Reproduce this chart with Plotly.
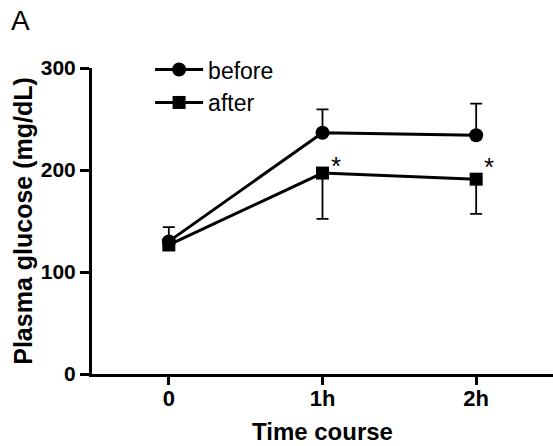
import plotly.graph_objects as go

categories = ["0", "1h", "2h"]
before_mean = [130, 236.5, 234]
before_err_up = [14, 23, 31]
after_mean = [126.5, 197, 191]
after_err_down = [0, 45, 34]
star_labels = ["", "*", "*"]
star_y = [None, 206, 205]
y_ticks = [0, 100, 200, 300]

xpos = list(range(len(categories)))
fig = go.Figure()
fig.add_trace(go.Scatter(
    x=xpos, y=before_mean, name="before", mode="lines+markers",
    line=dict(color="black", width=3),
    marker=dict(symbol="circle", size=14, color="black"),
    error_y=dict(type="data", array=before_err_up, arrayminus=[0] * 3,
                 symmetric=False, color="black", thickness=1.8, width=6),
))
fig.add_trace(go.Scatter(
    x=xpos, y=after_mean, name="after", mode="lines+markers",
    line=dict(color="black", width=3),
    marker=dict(symbol="square", size=13, color="black"),
    error_y=dict(type="data", array=[0] * 3, arrayminus=after_err_down,
                 symmetric=False, color="black", thickness=1.8, width=6),
))
for xi, yi, s in zip(xpos, star_y, star_labels):
    if s:
        fig.add_annotation(x=xi, y=yi, text=s, showarrow=False,
                           xshift=13, yshift=-2,
                           font=dict(family="Liberation Sans", size=26, color="black"))

fig.add_annotation(x=0, y=1, xref="paper", yref="paper", text="A", showarrow=False,
                   xanchor="left", yanchor="top", xshift=-83, yshift=65,
                   font=dict(family="Liberation Sans", size=28, color="black"))

fig.update_layout(
    width=553, height=446,
    margin=dict(l=92, r=0, t=68, b=72),
    paper_bgcolor="white", plot_bgcolor="white",
    font=dict(family="Liberation Sans", color="black"),
    showlegend=True,
    legend=dict(x=0.126, y=1.065, xanchor="left", yanchor="top",
                font=dict(size=23, family="Liberation Sans"),
                bgcolor="rgba(0,0,0,0)", itemwidth=48, tracegroupgap=0),
    xaxis=dict(range=[-0.5, 2.5], tickmode="array", tickvals=xpos,
               ticktext=["<b>%s</b>" % c for c in categories],
               showline=True, linecolor="black", linewidth=3, ticks="outside",
               tickwidth=3, ticklen=8, tickcolor="black", showgrid=False, zeroline=False,
               automargin=False, ticklabelstandoff=-5,
               tickfont=dict(size=22, family="Liberation Sans"),
               title=dict(text="<b>Time course</b>", font=dict(size=24), standoff=13)),
    yaxis=dict(range=[0, 300], tickmode="array", tickvals=y_ticks,
               ticktext=["<b>%d</b>" % t for t in y_ticks],
               showline=True, linecolor="black", linewidth=3, ticks="outside",
               tickwidth=3, ticklen=9, tickcolor="black", showgrid=False, zeroline=False,
               automargin=False,
               tickfont=dict(size=21, family="Liberation Sans"),
               title=dict(text="<b>Plasma glucose (mg/dL)</b>", font=dict(size=25), standoff=2)),
)
fig.write_html("out.html", config={"displayModeBar": False},
               post_script="document.body.style.margin='0';")
